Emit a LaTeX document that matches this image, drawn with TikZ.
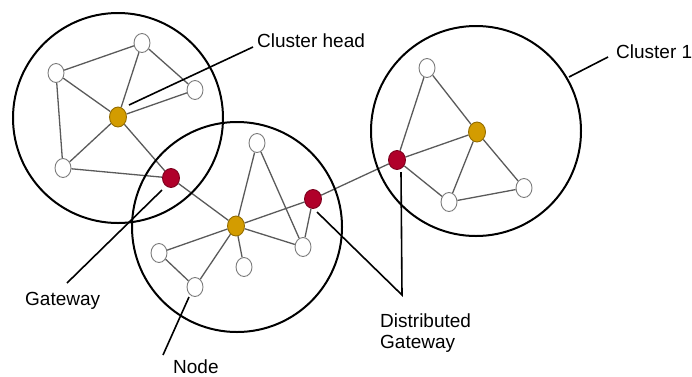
\documentclass[tikz,border=0pt]{standalone}
\usepackage{fontspec}
\setmainfont{Liberation Sans}
\usetikzlibrary{shapes.geometric,backgrounds}
\definecolor{headcol}{HTML}{D39C00}
\definecolor{gatecol}{HTML}{B0002A}
\definecolor{edgecol}{HTML}{5A5A5A}
\tikzset{
  sensor/.style={ellipse,draw=edgecol!80,line width=0.9pt,fill=white,minimum width=16pt,minimum height=19pt,inner sep=0pt},
  headnode/.style={sensor,fill=headcol,draw=headcol!70!black,minimum width=17pt,minimum height=20pt},
  gatenode/.style={sensor,fill=gatecol,draw=gatecol!70!black,minimum width=17pt,minimum height=19pt},
  cluster/.style={circle,draw=black,line width=2pt,minimum size=210pt,inner sep=0pt},
  link/.style={draw=edgecol,line width=1.3pt},
  leader/.style={draw=black,line width=1.6pt},
  lbl/.style={anchor=base west,inner sep=0pt,font=\fontsize{19}{21}\selectfont}
}
\begin{document}
\begin{tikzpicture}[x=1pt,y=-1pt]
\useasboundingbox (0,0) rectangle (692,376);
% cluster circles
\node[cluster] (C1) at (118,118) {};
\node[cluster] (C2) at (237,227) {};
\node[cluster] (C3) at (476,131) {};
% left cluster
\node[sensor] (n1a) at (56,73) {};
\node[sensor] (n1b) at (142,43) {};
\node[sensor] (n1c) at (195,90) {};
\node[headnode] (h1) at (118,117) {};
\node[sensor] (n1d) at (63,168) {};
\node[gatenode] (g1) at (171,178) {};
% middle cluster
\node[headnode] (h2) at (236,226) {};
\node[sensor] (n2a) at (257,143) {};
\node[gatenode] (g2) at (313,199) {};
\node[sensor] (n2b) at (303,247) {};
\node[sensor] (n2c) at (244,267) {};
\node[sensor] (n2d) at (159,253) {};
\node[sensor] (n2e) at (195,287) {};
% right cluster
\node[sensor] (n3a) at (427,68) {};
\node[headnode] (h3) at (477,132) {};
\node[gatenode] (g3) at (397,160) {};
\node[sensor] (n3b) at (449,202) {};
\node[sensor] (n3c) at (524,188) {};
\begin{scope}[on background layer]
\path[link] (n1a) -- (n1b) (n1b) -- (h1) (n1b) -- (n1c) (n1c) -- (h1)
  (n1a) -- (h1) (n1a) -- (n1d) (n1d) -- (h1) (n1d) -- (g1) (h1) -- (g1) (g1) -- (h2);
\path[link] (h2) -- (n2a) (n2a) -- (n2b) (h2) -- (g2) (g2) -- (n2b) (h2) -- (n2b)
  (h2) -- (n2c) (h2) -- (n2d) (n2d) -- (n2e) (n2e) -- (h2) (g2) -- (g3);
\path[link] (n3a) -- (g3) (n3a) -- (h3) (g3) -- (h3) (g3) -- (n3b) (h3) -- (n3b)
  (h3) -- (n3c) (n3b) -- (n3c);
\end{scope}
% labels
\node[lbl] (tCH) at (257,47) {Cluster head};
\node[lbl] (tCL) at (616,58) {Cluster 1};
\node[lbl] (tGW) at (25,305) {Gateway};
\node[lbl] (tND) at (173,373) {Node};
\node[lbl] (tDG1) at (380,327) {Distributed};
\node[lbl] (tDG2) at (380,348) {Gateway};
% leader lines
\coordinate (aCH1) at (253,47);
\coordinate (aCH2) at (129,105);
\coordinate (aCL1) at (608,57);
\coordinate (aCL2) at (569,77);
\coordinate (aGW1) at (67,283);
\coordinate (aGW2) at (162,190);
\coordinate (aND1) at (163,355);
\coordinate (aND2) at (189,297);
\coordinate (aDG1) at (317,212);
\coordinate (aDG2) at (402,295);
\coordinate (aDG3) at (401,172);
\path[leader] (aCH1) -- (aCH2);
\path[leader] (aCL1) -- (aCL2);
\path[leader] (aGW1) -- (aGW2);
\path[leader] (aND1) -- (aND2);
\path[leader,line join=miter] (aDG1) -- (aDG2) -- (aDG3);
\end{tikzpicture}
\end{document}
